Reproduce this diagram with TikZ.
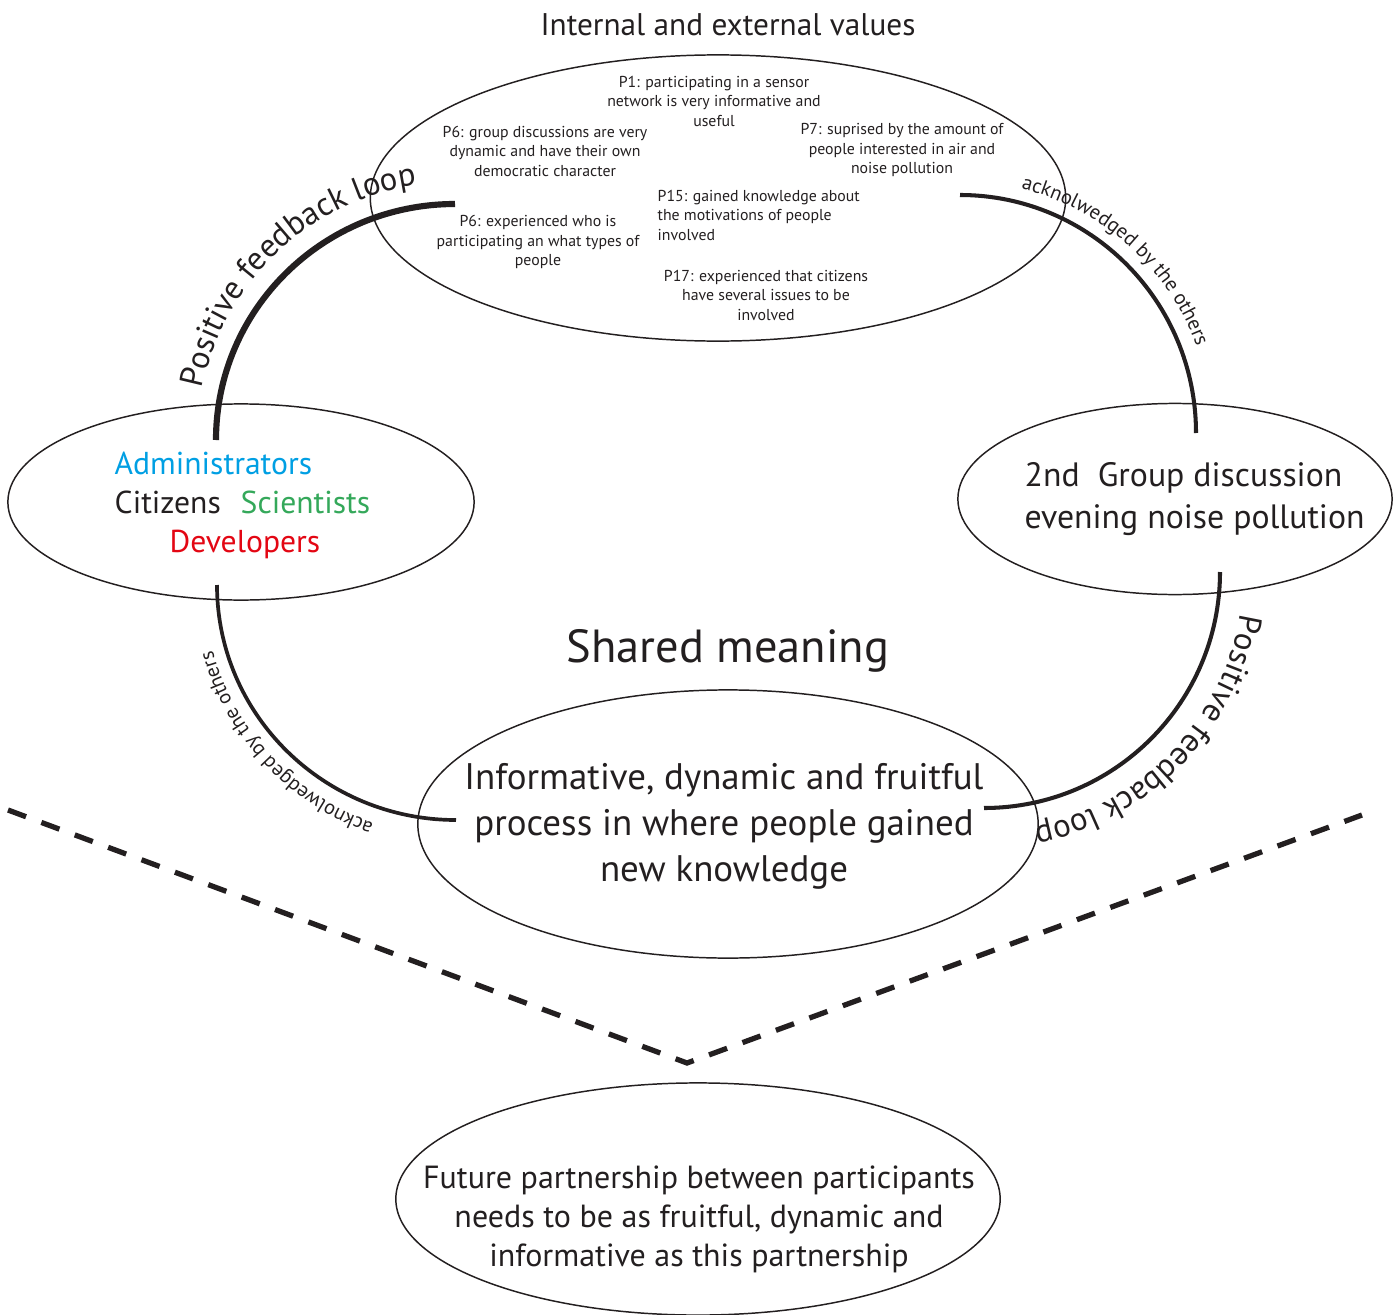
\documentclass[tikz,border=0pt]{standalone}
\usepackage{fontspec}
\setmainfont{PT Sans}
\usetikzlibrary{shapes.geometric,decorations.text}
\definecolor{ink}{RGB}{35,31,32}
\definecolor{admblue}{RGB}{0,159,227}
\definecolor{scigreen}{RGB}{52,168,90}
\definecolor{devred}{RGB}{227,6,19}
\newcommand{\fsz}[2]{\fontsize{#1}{#2}\selectfont}
\begin{document}
\begin{tikzpicture}[x=0.01cm,y=0.01cm]
\tikzset{
  oval/.style={draw=ink, line width=0.42pt, ellipse, inner sep=0pt},
  txt/.style={inner sep=0pt, text=ink, align=center},
  small/.style={txt, font=\fsz{4.5}{5.55}},
  loopline/.style={draw=ink, line cap=butt},
  dashline/.style={draw=ink, line width=1.5pt, dash pattern=on 5.47pt off 4.66pt},
}
\useasboundingbox (0,0) rectangle (1396,-1315);

% ellipses
\node[oval, minimum width=6.95cm, minimum height=2.86cm] (top) at (718,-198) {};
\node[oval, minimum width=4.66cm, minimum height=1.96cm] (left) at (241,-502) {};
\node[oval, minimum width=4.34cm, minimum height=1.91cm] (right) at (1175,-499) {};
\node[oval, minimum width=6.20cm, minimum height=2.68cm] (mid) at (728,-824) {};
\node[oval, minimum width=6.04cm, minimum height=2.32cm] (bot) at (698,-1199) {};

% titles
\node[txt, font=\fsz{8.9}{11}, anchor=base] (ttop) at (728,-35) {Internal and external values};
\node[txt, font=\fsz{13.2}{15}, anchor=base] (tshared) at (728,-662) {Shared meaning};

% small texts in top ellipse
\node[small] (p1) at (714,-101) {P1: participating in a sensor\\network is very informative and\\useful};
\node[small] (p6a) at (545,-151) {P6: group discussions are very\\dynamic and have their own\\democratic character};
\node[small] (p7) at (902,-150) {P7: suprised by the amount of\\people interested in air and\\noise pollution};
\node[small, align=left, anchor=west] (p15) at (657,-215) {P15: gained knowledge about\\the motivations of people\\involved};
\node[small] (p6b) at (538,-242) {P6: experienced who is\\participating an what types of\\people};
\node[small] (p17) at (766,-295) {P17: experienced that citizens\\have several issues to be\\involved};

% left ellipse
\node[txt, font=\fsz{9.0}{10}, text=admblue, anchor=base west] (adm) at (114,-474) {Administrators};
\node[txt, font=\fsz{9.0}{10}, anchor=base west] (cit) at (114,-513) {Citizens};
\node[txt, font=\fsz{9.0}{10}, text=scigreen, anchor=base west] (sci) at (240,-513) {Scientists};
\node[txt, font=\fsz{9.0}{10}, text=devred, anchor=base west] (dev) at (169,-552) {Developers};

% right ellipse
\node[txt, font=\fsz{9.6}{11.7}, align=left, anchor=west] (grp) at (1024,-499) {2nd\ \ Group discussion\\evening noise pollution};

% middle ellipse
\node[txt, font=\fsz{10.5}{13.1}] (midtxt) at (724,-826) {Informative, dynamic and fruitful\\process in where people gained\\new knowledge};

% bottom ellipse
\node[txt, font=\fsz{9.1}{11.1}] (bottxt) at (699,-1219) {Future partnership between participants\\needs to be as fruitful, dynamic and\\informative as this partnership};

% loop arcs
\coordinate (tlA) at (455,-204);
\coordinate (trA) at (960,-195);
\coordinate (blA) at (217,-585);
\coordinate (brA) at (1220,-572);
\draw[loopline, line width=1.75pt] (tlA) arc[start angle=90, end angle=180, x radius=239, y radius=236] coordinate (tlB);
\draw[loopline, line width=1.15pt] (trA) arc[start angle=90, end angle=0, x radius=236, y radius=238] coordinate (trB);
\draw[loopline, line width=1.05pt] (blA) arc[start angle=180, end angle=270, x radius=239, y radius=235] coordinate (blB);
\draw[loopline, line width=1.15pt] (brA) arc[start angle=0, end angle=-90, x radius=236, y radius=236] coordinate (brB);

% curved labels
\path[decorate, decoration={text along path, text align=center,
  text={|\fsz{9.3}{11}\color{ink}|Positive feedback loop}}]
  (455,-440) ++(178:258) arc[start angle=178, end angle=89, radius=258];
\path[decorate, decoration={text along path, text align=center,
  text={|\fsz{5.8}{7}\color{ink}|acknolwedged by the others}}]
  (960,-433) ++(88:252) arc[start angle=88, end angle=8, radius=252];
\path[decorate, decoration={text along path, text align=center,
  text={|\fsz{9.3}{11}\color{ink}|Positive feedback loop}}]
  (984,-572) ++(0:260) arc[start angle=0, end angle=-88, radius=260];
\path[decorate, decoration={text along path, text align=center,
  text={|\fsz{5.8}{7}\color{ink}|acknolwedged by the others}}]
  (456,-585) ++(264:252) arc[start angle=264, end angle=182, radius=252];

% dashed chevron
\coordinate (dL) at (8,-810);
\coordinate (dV) at (687,-1063);
\coordinate (dR) at (1362,-815);
\draw[dashline] (dL) -- (dV) -- (dR);
\end{tikzpicture}
\end{document}
